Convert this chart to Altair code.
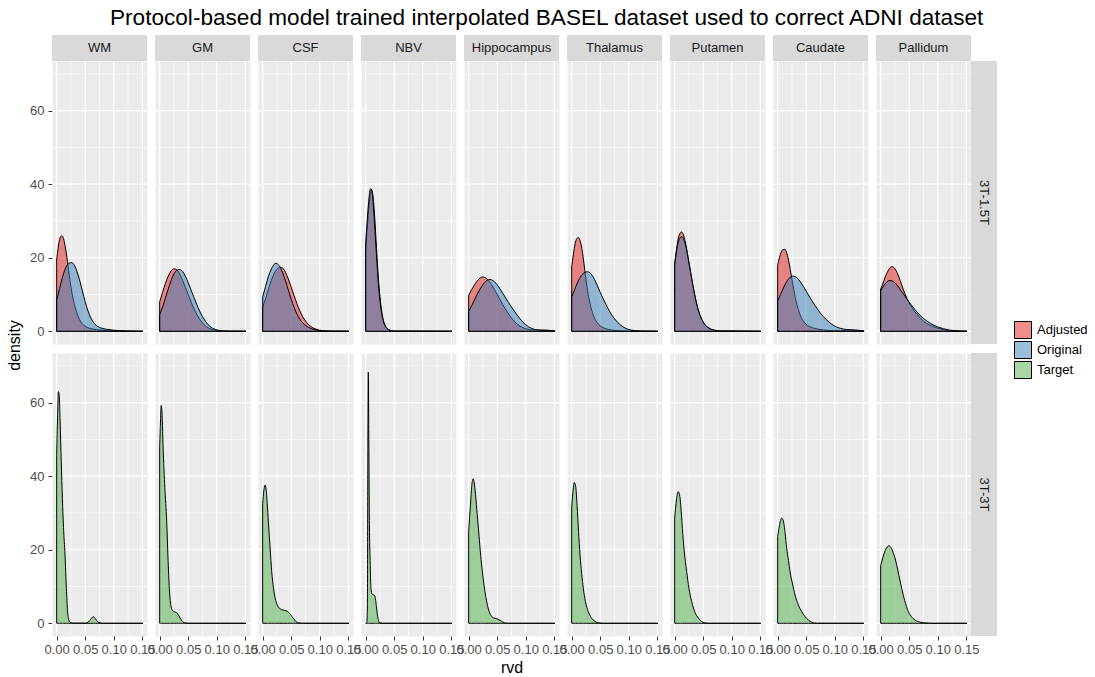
import altair as alt
import pandas as pd

# ---- facet layout -------------------------------------------------------
REGIONS = ["WM", "GM", "CSF", "NBV", "Hippocampus", "Thalamus",
           "Putamen", "Caudate", "Pallidum"]
ROWS = ["3T-1.5T", "3T-3T"]
SERIES = ["Adjusted", "Original", "Target"]
FILLS = ["rgba(228,26,28,0.5)", "rgba(55,126,184,0.5)", "rgba(77,175,74,0.5)"]

TITLE = "Protocol-based model trained interpolated BASEL dataset used to correct ADNI dataset"

MAJOR_X = [0.0, 0.05, 0.10, 0.15]
MINOR_X = [0.025, 0.075, 0.125]
MAJOR_Y = [0, 20, 40, 60]
MINOR_Y = [10, 30, 50, 70]
X_DOMAIN = [-0.0082, 0.1582]
Y_DOMAIN = [-3.45, 73.5]

# ---- density curves, (rvd, density) ------------------------------------
ADJUSTED = {
    "WM": [(0, 19.4), (0.003, 23.2), (0.006, 25.4), (0.009, 26.0), (0.012, 25.2), (0.015, 23.0),
           (0.018, 20.0), (0.021, 16.5), (0.025, 12.0), (0.03, 8.0), (0.035, 5.2), (0.04, 3.2),
           (0.045, 2.0), (0.05, 1.4), (0.06, 0.7), (0.08, 0.3), (0.10, 0.15), (0.12, 0.05), (0.151, 0.0)],
    "GM": [(0, 8.0), (0.005, 10.6), (0.01, 13.0), (0.015, 15.0), (0.02, 16.4), (0.025, 17.0),
           (0.03, 16.7), (0.035, 15.6), (0.04, 13.9), (0.045, 12.0), (0.05, 10.0), (0.055, 8.0),
           (0.06, 6.2), (0.065, 4.6), (0.07, 3.3), (0.075, 2.3), (0.08, 1.5), (0.09, 0.6),
           (0.10, 0.2), (0.11, 0.05), (0.151, 0.0)],
    "CSF": [(0, 6.5), (0.005, 8.9), (0.01, 11.4), (0.015, 13.8), (0.02, 15.7), (0.025, 16.9),
            (0.03, 17.4), (0.035, 17.2), (0.04, 16.0), (0.045, 14.2), (0.05, 12.0), (0.055, 9.7),
            (0.06, 7.5), (0.065, 5.6), (0.07, 4.0), (0.075, 2.8), (0.08, 1.9), (0.09, 0.8),
            (0.10, 0.3), (0.11, 0.1), (0.12, 0.04), (0.151, 0.0)],
    "NBV": [(0, 21.5), (0.003, 28.5), (0.006, 34.5), (0.009, 38.2), (0.0105, 38.5), (0.013, 36.5),
            (0.016, 30.5), (0.019, 22.5), (0.022, 15.0), (0.025, 9.5), (0.028, 5.5), (0.031, 3.0),
            (0.035, 1.3), (0.04, 0.5), (0.045, 0.2), (0.05, 0.05), (0.151, 0.0)],
    "Hippocampus": [(0, 9.8), (0.005, 11.3), (0.01, 12.6), (0.015, 13.7), (0.02, 14.5), (0.024, 14.8),
                    (0.03, 14.5), (0.035, 13.8), (0.04, 12.7), (0.045, 11.4), (0.05, 10.0), (0.055, 8.6),
                    (0.06, 7.2), (0.065, 5.9), (0.07, 4.7), (0.075, 3.6), (0.08, 2.7), (0.085, 2.0),
                    (0.09, 1.4), (0.095, 1.0), (0.10, 0.7), (0.11, 0.4), (0.12, 0.3), (0.13, 0.3),
                    (0.14, 0.25), (0.151, 0.1)],
    "Thalamus": [(0, 17.5), (0.003, 21.0), (0.006, 23.8), (0.009, 25.2), (0.0115, 25.5), (0.014, 25.0),
                 (0.017, 23.2), (0.02, 20.3), (0.023, 16.5), (0.026, 13.0), (0.03, 9.2), (0.035, 5.8),
                 (0.04, 3.6), (0.045, 2.3), (0.05, 1.5), (0.06, 0.7), (0.07, 0.35), (0.08, 0.15),
                 (0.10, 0.05), (0.151, 0.0)],
    "Putamen": [(0, 18.3), (0.004, 23.2), (0.008, 26.2), (0.012, 27.0), (0.016, 25.9), (0.02, 23.2),
                (0.024, 19.6), (0.028, 15.9), (0.032, 12.3), (0.036, 9.1), (0.04, 6.4), (0.045, 4.0),
                (0.05, 2.4), (0.055, 1.4), (0.06, 0.8), (0.07, 0.25), (0.08, 0.08), (0.151, 0.0)],
    "Caudate": [(0, 18.0), (0.003, 20.0), (0.006, 21.5), (0.009, 22.2), (0.0125, 22.3), (0.016, 21.2),
                (0.02, 18.6), (0.024, 15.0), (0.028, 11.5), (0.032, 8.4), (0.036, 6.0), (0.04, 4.2),
                (0.045, 2.8), (0.05, 1.9), (0.06, 1.0), (0.07, 0.6), (0.08, 0.35), (0.09, 0.2),
                (0.10, 0.15), (0.12, 0.2), (0.13, 0.3), (0.14, 0.2), (0.151, 0.1)],
    "Pallidum": [(0, 11.5), (0.005, 13.5), (0.01, 15.5), (0.015, 17.0), (0.02, 17.6), (0.025, 17.0),
                 (0.03, 15.5), (0.035, 13.4), (0.04, 11.2), (0.045, 9.3), (0.05, 7.7), (0.055, 6.4),
                 (0.06, 5.3), (0.065, 4.4), (0.07, 3.5), (0.075, 2.8), (0.08, 2.2), (0.09, 1.4),
                 (0.10, 0.85), (0.11, 0.45), (0.12, 0.22), (0.13, 0.1), (0.14, 0.04), (0.151, 0.02)],
}

ORIGINAL = {
    "WM": [(0, 8.4), (0.005, 11.6), (0.01, 14.6), (0.015, 17.0), (0.02, 18.3), (0.026, 18.7),
           (0.03, 18.2), (0.035, 16.5), (0.04, 14.0), (0.045, 11.0), (0.05, 8.0), (0.055, 5.5),
           (0.06, 3.6), (0.065, 2.3), (0.07, 1.5), (0.08, 0.8), (0.09, 0.5), (0.10, 0.3),
           (0.12, 0.1), (0.151, 0.0)],
    "GM": [(0, 4.5), (0.005, 6.6), (0.01, 9.0), (0.015, 11.5), (0.02, 13.8), (0.025, 15.6),
           (0.03, 16.6), (0.035, 16.8), (0.04, 16.3), (0.045, 15.0), (0.05, 13.2), (0.055, 11.2),
           (0.06, 9.2), (0.065, 7.3), (0.07, 5.5), (0.075, 4.0), (0.08, 2.8), (0.085, 1.8),
           (0.09, 1.1), (0.10, 0.4), (0.11, 0.1), (0.12, 0.03), (0.151, 0.0)],
    "CSF": [(0, 9.3), (0.005, 12.2), (0.01, 14.9), (0.015, 16.9), (0.02, 18.2), (0.022, 18.5),
            (0.025, 18.4), (0.03, 17.6), (0.035, 15.9), (0.04, 13.7), (0.045, 11.2), (0.05, 8.7),
            (0.055, 6.5), (0.06, 4.7), (0.065, 3.3), (0.07, 2.3), (0.075, 1.6), (0.08, 1.1),
            (0.09, 0.5), (0.10, 0.2), (0.12, 0.05), (0.151, 0.0)],
    "NBV": [(0, 24.0), (0.003, 31.0), (0.006, 36.5), (0.008, 38.6), (0.009, 38.8), (0.011, 38.0),
            (0.014, 33.0), (0.017, 25.5), (0.02, 18.0), (0.023, 11.5), (0.026, 7.0), (0.029, 4.0),
            (0.032, 2.2), (0.036, 1.0), (0.04, 0.4), (0.045, 0.15), (0.05, 0.05), (0.151, 0.0)],
    "Hippocampus": [(0, 5.4), (0.005, 6.9), (0.01, 8.5), (0.015, 10.1), (0.02, 11.5), (0.025, 12.7),
                    (0.03, 13.6), (0.035, 14.05), (0.0375, 14.1), (0.04, 14.0), (0.045, 13.5),
                    (0.05, 12.6), (0.055, 11.5), (0.06, 10.3), (0.065, 9.0), (0.07, 7.8), (0.075, 6.6),
                    (0.08, 5.5), (0.085, 4.4), (0.09, 3.4), (0.095, 2.5), (0.10, 1.8), (0.105, 1.2),
                    (0.11, 0.8), (0.12, 0.4), (0.13, 0.3), (0.14, 0.25), (0.151, 0.1)],
    "Thalamus": [(0, 9.3), (0.005, 11.3), (0.01, 13.2), (0.015, 14.7), (0.02, 15.7), (0.0275, 16.2),
                 (0.03, 16.1), (0.035, 15.4), (0.04, 14.1), (0.045, 12.4), (0.05, 10.6), (0.055, 8.9),
                 (0.06, 7.3), (0.065, 5.8), (0.07, 4.5), (0.075, 3.4), (0.08, 2.5), (0.085, 1.8),
                 (0.09, 1.2), (0.10, 0.5), (0.11, 0.2), (0.12, 0.08), (0.151, 0.0)],
    "Putamen": [(0, 18.0), (0.004, 22.5), (0.008, 25.0), (0.012, 25.7), (0.016, 25.0), (0.02, 22.8),
                (0.024, 19.5), (0.028, 16.0), (0.032, 12.5), (0.036, 9.3), (0.04, 6.6), (0.045, 4.2),
                (0.05, 2.5), (0.055, 1.5), (0.06, 0.9), (0.07, 0.3), (0.08, 0.1), (0.151, 0.0)],
    "Caudate": [(0, 8.3), (0.005, 10.0), (0.01, 11.8), (0.015, 13.3), (0.02, 14.4), (0.0275, 15.0),
                (0.03, 14.9), (0.035, 14.4), (0.04, 13.4), (0.045, 12.2), (0.05, 10.9), (0.055, 9.6),
                (0.06, 8.3), (0.065, 7.1), (0.07, 6.0), (0.075, 4.9), (0.08, 4.0), (0.085, 3.2),
                (0.09, 2.5), (0.095, 1.9), (0.10, 1.4), (0.11, 0.8), (0.12, 0.5), (0.13, 0.4),
                (0.14, 0.3), (0.151, 0.1)],
    "Pallidum": [(0, 11.0), (0.005, 12.3), (0.01, 13.3), (0.016, 13.8), (0.02, 13.7), (0.025, 13.2),
                 (0.03, 12.3), (0.035, 11.2), (0.04, 10.1), (0.045, 9.0), (0.05, 7.9), (0.055, 6.9),
                 (0.06, 5.9), (0.065, 5.0), (0.07, 4.2), (0.075, 3.5), (0.08, 2.9), (0.09, 1.9),
                 (0.10, 1.2), (0.11, 0.7), (0.12, 0.35), (0.13, 0.15), (0.14, 0.06), (0.151, 0.03)],
}

TARGET = {
    "WM": [(0, 46), (0.0015, 56), (0.003, 63), (0.0045, 62), (0.006, 55), (0.008, 44), (0.01, 34),
           (0.012, 26), (0.0146, 18.6), (0.017, 9.5), (0.019, 3.5), (0.021, 1.0), (0.024, 0.2),
           (0.03, 0.05), (0.05, 0.05), (0.055, 0.3), (0.06, 1.2), (0.064, 1.8), (0.068, 1.2),
           (0.072, 0.4), (0.076, 0.1), (0.08, 0), (0.151, 0)],
    "GM": [(0, 48), (0.0014, 55), (0.0027, 59.2), (0.004, 57.5), (0.0064, 46), (0.009, 37),
           (0.0123, 27.7), (0.0145, 18), (0.0169, 9.5), (0.019, 5.5), (0.022, 3.6), (0.026, 3.1),
           (0.0298, 2.9), (0.033, 2.2), (0.0368, 1.2), (0.04, 0.5), (0.044, 0.1), (0.05, 0), (0.151, 0)],
    "CSF": [(0, 32.5), (0.002, 36), (0.004, 37.6), (0.006, 36.5), (0.008, 32.5), (0.01, 27.5),
            (0.013, 20.5), (0.0158, 14.1), (0.019, 9.5), (0.022, 6.8), (0.025, 5.2), (0.03, 4.0),
            (0.036, 3.6), (0.043, 3.3), (0.048, 2.5), (0.054, 1.3), (0.058, 0.5), (0.063, 0.1),
            (0.07, 0), (0.151, 0)],
    "NBV": [(0, 0), (0.002, 0.2), (0.003, 5), (0.0038, 45), (0.0046, 68.3), (0.0055, 50),
            (0.0065, 28), (0.0078, 17), (0.0093, 9.5), (0.011, 8), (0.013, 7.8), (0.0155, 7.6),
            (0.017, 6.8), (0.019, 4.2), (0.021, 1.8), (0.023, 0.5), (0.025, 0.1), (0.03, 0), (0.151, 0)],
    "Hippocampus": [(0, 25), (0.003, 32), (0.0055, 37.5), (0.0075, 39.3), (0.0095, 38.5), (0.012, 35),
                    (0.015, 29.5), (0.018, 24), (0.021, 18.5), (0.024, 14), (0.027, 10.2), (0.03, 7.2),
                    (0.034, 4.2), (0.038, 2.4), (0.043, 1.5), (0.05, 1.2), (0.055, 0.8), (0.06, 0.3),
                    (0.065, 0.05), (0.07, 0), (0.151, 0)],
    "Thalamus": [(0, 31.3), (0.002, 35.5), (0.0045, 38.3), (0.007, 37.2), (0.0095, 32), (0.012, 25),
                 (0.0146, 18.6), (0.0175, 13.5), (0.0204, 9.5), (0.024, 6), (0.029, 3.2), (0.034, 1.6),
                 (0.041, 0.5), (0.047, 0.1), (0.055, 0), (0.151, 0)],
    "Putamen": [(0, 28.6), (0.003, 33.5), (0.006, 35.8), (0.009, 34.5), (0.0105, 32.2), (0.0135, 25.8),
                (0.0165, 20), (0.021, 14.1), (0.025, 9.5), (0.0298, 5.9), (0.035, 3.2), (0.0415, 1.4),
                (0.047, 0.5), (0.053, 0.1), (0.06, 0), (0.151, 0)],
    "Caudate": [(0, 23.6), (0.003, 26.5), (0.007, 28.6), (0.01, 27.8), (0.013, 24.5), (0.0158, 20.4),
                (0.019, 17), (0.0216, 14.1), (0.026, 10.7), (0.0304, 7.7), (0.036, 5.1), (0.042, 3.2),
                (0.048, 1.8), (0.0537, 0.9), (0.06, 0.3), (0.065, 0.05), (0.07, 0), (0.151, 0)],
    "Pallidum": [(0, 15.7), (0.004, 18), (0.008, 19.8), (0.0115, 20.8), (0.0146, 21.1), (0.018, 20.6),
                 (0.022, 19.2), (0.025, 17.8), (0.028, 15.9), (0.032, 13), (0.0368, 9.5), (0.042, 6.2),
                 (0.0485, 3.2), (0.055, 1.6), (0.06, 0.9), (0.066, 0.45), (0.075, 0.15), (0.0835, 0.03),
                 (0.09, 0), (0.151, 0)],
}

# ---- sizes (pixels) -------------------------------------------------------
PANEL_W, PANEL_H = 95, 283
STRIP = 26
COL_GAP, ROW_GAP = 8, 9
SIDE_W = STRIP - COL_GAP

FONT = "Liberation Sans"
BG = "#EBEBEB"
STRIP_BG = "#D9D9D9"
STRIP_TEXT = "#1A1A1A"
TICK_TEXT = "#4D4D4D"

x_scale = alt.Scale(domain=X_DOMAIN, nice=False, zero=False)
y_scale = alt.Scale(domain=Y_DOMAIN, nice=False, zero=False)
fill_scale = alt.Scale(domain=SERIES, range=FILLS)
legend = alt.Legend(title=None, orient="none", legendX=962, legendY=286,
                    symbolType="square", symbolSize=289, symbolStrokeColor="black",
                    symbolStrokeWidth=1, symbolOpacity=1, labelFontSize=13, labelColor="black",
                    labelFont=FONT, labelOffset=5, rowPadding=-3, padding=0)


def curve_frame(table, region, series):
    return pd.DataFrame([{"series": series, "rvd": x, "density": d} for x, d in table[region]])


def x_axis(row_i, col_i):
    if row_i == 0:
        return None
    return alt.Axis(values=MAJOR_X, format=".2f", grid=False, domain=False,
                    labelFontSize=13, labelColor=TICK_TEXT, labelFont=FONT,
                    labelFlush=False, labelOverlap=False, labelPadding=3,
                    tickSize=4, tickColor="#333333", tickWidth=1,
                    title="rvd" if col_i == 4 else None, titleFontSize=16,
                    titleFontWeight="normal", titleColor="black", titleFont=FONT,
                    titlePadding=3)


def y_axis(row_i, col_i):
    if col_i != 0:
        return None
    return alt.Axis(values=MAJOR_Y, grid=False, domain=False,
                    labelFontSize=13, labelColor=TICK_TEXT, labelFont=FONT, labelPadding=4,
                    tickSize=4, tickColor="#333333", tickWidth=1,
                    title="density" if row_i == 0 else None, titleFontSize=16,
                    titleFontWeight="normal", titleColor="black", titleFont=FONT,
                    titleX=-38, titleY=PANEL_H + 1, titleAngle=270,
                    titleAlign="center", titleBaseline="middle")


def panel(region, row_i, col_i):
    xa, ya = x_axis(row_i, col_i), y_axis(row_i, col_i)

    def vrules(values, width):
        return alt.Chart(pd.DataFrame({"g": values})).mark_rule(
            color="white", strokeWidth=width).encode(
            x=alt.X("g:Q", scale=x_scale, axis=xa))

    def hrules(values, width):
        return alt.Chart(pd.DataFrame({"g": values})).mark_rule(
            color="white", strokeWidth=width).encode(
            y=alt.Y("g:Q", scale=y_scale, axis=ya))

    def area(df):
        return alt.Chart(df).mark_area(
            stroke="black", strokeWidth=1, opacity=1, interpolate="monotone").encode(
            x=alt.X("rvd:Q", scale=x_scale, axis=xa),
            y=alt.Y("density:Q", scale=y_scale, axis=ya, stack=None),
            fill=alt.Fill("series:N", scale=fill_scale, legend=legend),
        )

    layers = [vrules(MINOR_X, 0.6), hrules(MINOR_Y, 0.6),
              vrules(MAJOR_X, 1.2), hrules(MAJOR_Y, 1.2)]
    if row_i == 0:
        layers += [area(curve_frame(ADJUSTED, region, "Adjusted")),
                   area(curve_frame(ORIGINAL, region, "Original"))]
    else:
        layers += [area(curve_frame(TARGET, region, "Target"))]
    return alt.layer(*layers).properties(
        width=PANEL_W, height=PANEL_H,
        view=alt.ViewBackground(fill=BG, stroke="transparent"))


def top_strip(label):
    base = alt.Chart(pd.DataFrame({"label": [label]}))
    box = base.mark_rect(color=STRIP_BG).encode(
        x=alt.value(0), x2=alt.value(PANEL_W), y=alt.value(0), y2=alt.value(STRIP))
    txt = base.mark_text(font=FONT, fontSize=13, color=STRIP_TEXT, baseline="middle").encode(
        x=alt.value(PANEL_W / 2), y=alt.value(STRIP / 2), text="label:N")
    return alt.layer(box, txt).properties(width=PANEL_W, height=STRIP - ROW_GAP)


def side_strip(label):
    base = alt.Chart(pd.DataFrame({"label": [label]}))
    box = base.mark_rect(color=STRIP_BG).encode(
        x=alt.value(-COL_GAP), x2=alt.value(SIDE_W), y=alt.value(0), y2=alt.value(PANEL_H))
    txt = base.mark_text(font=FONT, fontSize=13, color=STRIP_TEXT, angle=90,
                         baseline="middle", align="center").encode(
        x=alt.value((SIDE_W - COL_GAP) / 2), y=alt.value(PANEL_H / 2), text="label:N")
    return alt.layer(box, txt).properties(width=SIDE_W, height=PANEL_H)


def blank():
    return alt.Chart(pd.DataFrame({"label": [""]})).mark_text().encode(
        x=alt.value(0), y=alt.value(0), text="label:N").properties(
        width=SIDE_W, height=STRIP - ROW_GAP)


cells = [top_strip(r) for r in REGIONS] + [blank()]
for ri, row in enumerate(ROWS):
    cells += [panel(r, ri, ci) for ci, r in enumerate(REGIONS)] + [side_strip(row)]

chart = alt.concat(
    *cells, columns=len(REGIONS) + 1,
    spacing={"row": ROW_GAP, "column": COL_GAP},
    bounds="flush", align="each",
).properties(
    title=alt.TitleParams(TITLE, fontSize=22.6, font=FONT, fontWeight="normal",
                          color="black", anchor="start", frame="group", dx=58, offset=-1),
    padding={"left": 5, "top": 6, "right": 5, "bottom": 5},
).configure(font=FONT).configure_view(stroke="transparent")

chart.save("out.html", embed_options={"renderer": "svg", "actions": False})
